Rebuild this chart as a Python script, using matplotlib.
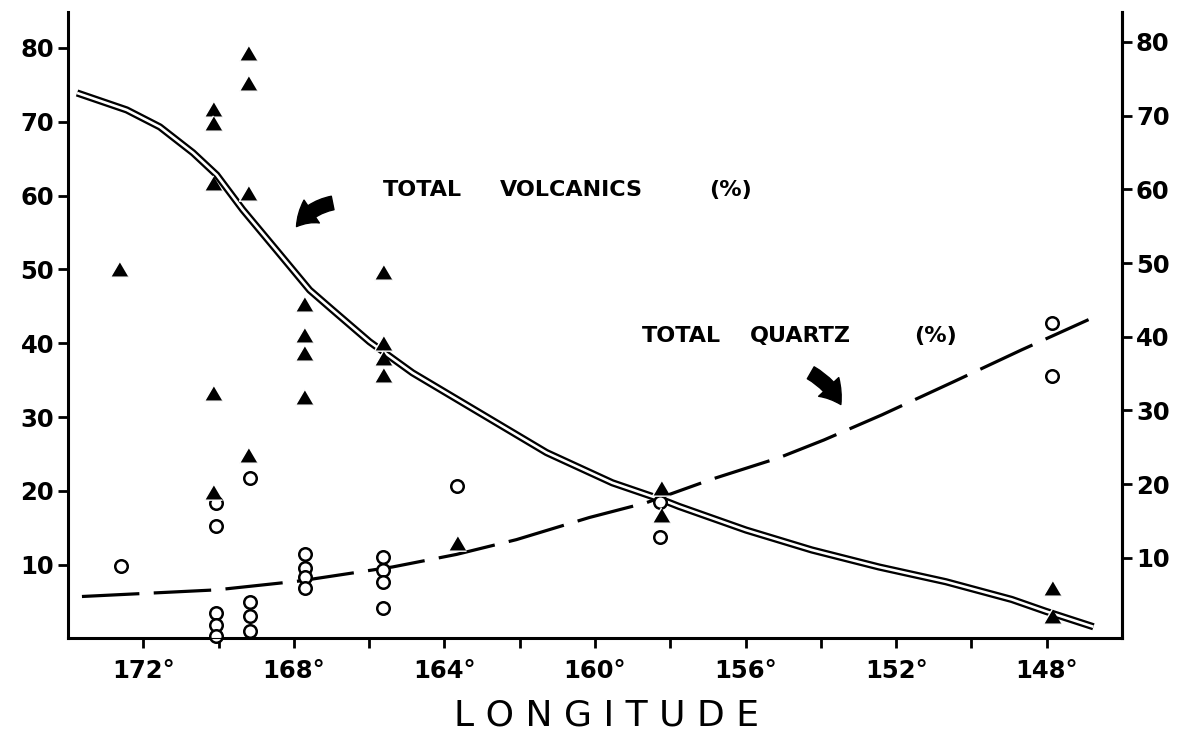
import matplotlib
matplotlib.use("Agg")
import matplotlib.pyplot as plt

# ---- data ----
# total volcanics (filled triangles)
volc_lon = [172.65, 170.14, 170.14, 170.14, 170.14, 170.14,
            169.23, 169.23, 169.23, 169.23,
            167.74, 167.74, 167.74, 167.74,
            165.64, 165.64, 165.64, 165.64,
            163.66, 158.24, 158.24, 147.87, 147.87]
volc_pct = [50.0, 71.7, 69.8, 61.7, 33.3, 19.9,
            79.3, 75.2, 60.4, 24.8,
            45.3, 41.1, 38.7, 32.7,
            49.7, 40.0, 38.0, 35.7,
            13.0, 20.4, 16.8, 6.9, 3.0]

# total quartz (open circles)
qtz_lon = [172.59, 170.07, 170.07, 170.07, 170.07, 170.07,
           169.17, 169.17, 169.17, 169.17,
           167.71, 167.71, 167.71, 167.71,
           165.62, 165.62, 165.62, 165.62,
           163.66, 158.27, 158.27, 147.87, 147.87]
qtz_pct = [9.8, 18.4, 15.2, 3.5, 1.9, 0.3,
           21.8, 4.9, 3.0, 1.0,
           11.4, 9.6, 8.3, 6.9,
           11.0, 9.3, 7.6, 4.1,
           20.7, 18.5, 13.8, 42.8, 35.6]

# hand drawn trend curves
volc_curve_lon = [173.76, 172.44, 171.56, 170.68, 170.05, 169.36, 168.46, 167.58,
                  166.97, 165.99, 164.85, 163.07, 161.29, 159.54, 158.22, 157.77,
                  155.99, 154.24, 152.46, 150.68, 148.93, 148.03, 146.76]
volc_curve_pct = [73.9, 71.6, 69.3, 65.8, 62.8, 58.1, 52.6, 47.2,
                  44.5, 40.2, 36.0, 30.6, 25.2, 21.1, 18.8, 17.9,
                  14.7, 12.0, 9.7, 7.7, 5.3, 3.7, 1.6]

qtz_curve_lon = [173.63, 170.05, 167.85, 165.38, 163.68, 162.09, 160.15, 158.64,
                 156.89, 155.11, 153.92, 152.38, 150.47, 148.67, 146.89]
qtz_curve_pct = [5.7, 6.6, 7.8, 9.7, 11.4, 13.4, 16.4, 18.4,
                 21.6, 24.5, 26.9, 30.3, 34.8, 39.1, 43.2]

lon_ticks = [172, 170, 168, 166, 164, 162, 160, 158, 156, 154, 152, 150, 148]
lon_labels = ['172°', '', '168°', '', '164°', '', '160°', '', '156°', '', '152°', '', '148°']
pct_ticks = [10, 20, 30, 40, 50, 60, 70, 80]

fig = plt.figure(figsize=(11.89, 7.34), dpi=100)
ax = fig.add_axes([0.0572, 0.131, 0.8865, 0.853])

# double line for volcanics
ax.plot(volc_curve_lon, volc_curve_pct, color='black', lw=5.2, solid_capstyle='butt',
        solid_joinstyle='round', zorder=2)
ax.plot(volc_curve_lon, volc_curve_pct, color='white', lw=1.9, solid_capstyle='butt',
        solid_joinstyle='round', zorder=2.1)
# long dashed line for quartz
ax.plot(qtz_curve_lon, qtz_curve_pct, color='black', lw=2.3, linestyle=(0, (18, 4.5)), zorder=2)

tri = [(0, 0.85), (-1, -0.85), (1, -0.85)]
ax.plot(qtz_lon, qtz_pct, linestyle='none', marker='o', ms=9.0, mfc='white', mec='black',
        mew=1.8, zorder=4, clip_on=False)
ax.plot(volc_lon, volc_pct, linestyle='none', marker=tri, ms=13, mfc='black', mec='white',
        mew=1.0, zorder=5, clip_on=False)

ax.set_xlim(174, 146)
ax.set_ylim(0.1, 84.9)
ax.set_xticks(lon_ticks)
ax.set_xticklabels(lon_labels)
ax.set_yticks(pct_ticks)
ax.set_yticklabels([str(v) for v in pct_ticks])

for s in ['left', 'right', 'bottom']:
    ax.spines[s].set_linewidth(2.2)
ax.spines['top'].set_visible(False)
ax.tick_params(axis='both', direction='out', length=7, width=2, labelsize=17.5, pad=3)
ax.tick_params(axis='x', pad=8)
for t in ax.get_xticklabels() + ax.get_yticklabels():
    t.set_fontweight('bold')

ax2 = ax.twinx()
ax2.set_ylim(-0.85, 84.1)
ax2.set_yticks(pct_ticks)
ax2.set_yticklabels([str(v) for v in pct_ticks], fontweight='bold')
ax2.spines['top'].set_visible(False)
ax2.spines['right'].set_linewidth(2.2)
ax2.tick_params(axis='y', direction='out', length=7, width=2, labelsize=17.5, pad=3)

# annotations
lab = dict(fontsize=16, fontweight='bold', va='center', ha='left')
ax.text(165.64, 60.8, 'TOTAL', **lab)
ax.text(162.54, 60.8, 'VOLCANICS', **lab)
ax.text(156.97, 60.8, '(%)', **lab)
ax.text(158.75, 41.0, 'TOTAL', **lab)
ax.text(155.9, 41.0, 'QUARTZ', **lab)
ax.text(151.53, 41.0, '(%)', **lab)

arrow = dict(arrowstyle='simple,head_length=0.7,head_width=0.9,tail_width=0.45',
             color='black', shrinkA=0, shrinkB=0)
ax.annotate('', xy=(167.93, 55.8), xytext=(166.97, 59.0),
            arrowprops=dict(connectionstyle='arc3,rad=0.2', mutation_scale=22, **arrow))
ax.annotate('', xy=(153.47, 31.7), xytext=(154.27, 36.0),
            arrowprops=dict(connectionstyle='arc3,rad=-0.15', mutation_scale=22, **arrow))

fig.text(0.5105, 0.025, 'L O N G I T U D E', fontsize=26, ha='center', va='center')

fig.savefig('out.png', dpi=100)
